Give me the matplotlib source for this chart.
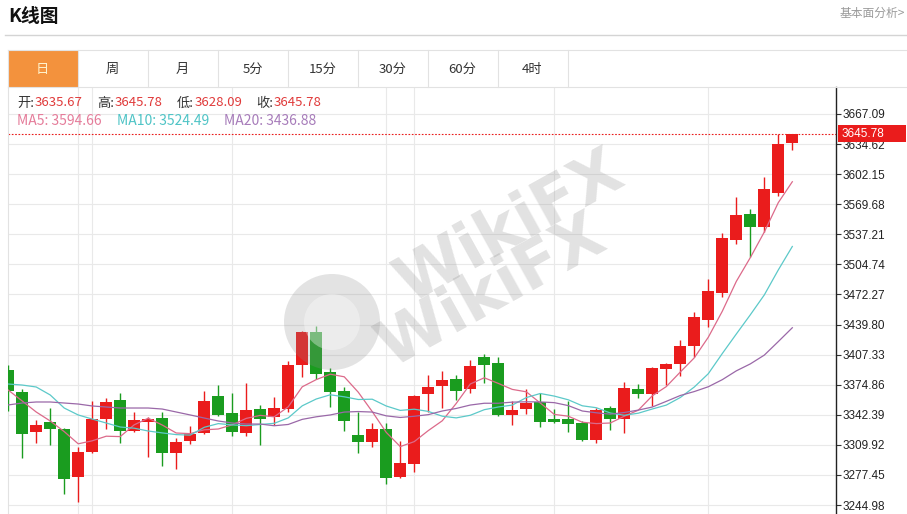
import matplotlib
matplotlib.use("Agg")
import matplotlib.pyplot as plt
import matplotlib.transforms as mtransforms
from matplotlib.lines import Line2D
from matplotlib.patches import Rectangle, Circle
import numpy as np
import pandas as pd

plt.rcParams["font.family"] = ["Noto Sans CJK SC", "DejaVu Sans"]

# daily candles, oldest first
opens = [3390.7, 3367.0, 3323.8, 3334.6, 3327.0, 3275.2, 3302.2, 3337.8, 3358.4, 3324.9,
         3334.6, 3338.9, 3301.1, 3314.1, 3322.7, 3362.7, 3344.3, 3322.7, 3348.6, 3340.0,
         3348.6, 3396.1, 3431.8, 3388.6, 3368.1, 3320.6, 3313.0, 3327.0, 3275.2, 3289.3,
         3364.8, 3373.5, 3381.1, 3370.2, 3404.8, 3398.3, 3342.2, 3348.6, 3356.2, 3337.8,
         3337.8, 3333.5, 3315.2, 3349.7, 3337.8, 3370.2, 3364.8, 3391.8, 3397.2, 3416.6,
         3444.7, 3473.9, 3531.1, 3559.1, 3545.1, 3581.8, 3635.67]
highs = [3396.1, 3370.2, 3336.8, 3349.7, 3328.1, 3307.6, 3357.3, 3360.5, 3365.9, 3345.4,
         3340.0, 3345.4, 3317.3, 3330.3, 3368.1, 3374.5, 3365.9, 3376.7, 3353.0, 3361.6,
         3400.5, 3432.8, 3438.2, 3392.9, 3372.4, 3345.4, 3333.5, 3333.5, 3314.1, 3363.8,
         3385.3, 3389.6, 3385.3, 3401.5, 3408.1, 3404.8, 3357.3, 3370.2, 3365.9, 3348.6,
         3357.3, 3335.7, 3349.7, 3351.9, 3377.8, 3375.6, 3394.0, 3398.3, 3423.1, 3453.3,
         3489.0, 3538.6, 3577.5, 3564.5, 3599.1, 3645.5, 3645.78]
lows = [3346.5, 3295.7, 3311.9, 3309.8, 3256.9, 3248.2, 3301.1, 3327.0, 3311.9, 3323.8,
        3296.8, 3287.1, 3283.9, 3310.9, 3321.6, 3341.1, 3319.5, 3319.5, 3309.8, 3331.4,
        3345.4, 3383.2, 3381.1, 3350.8, 3324.9, 3301.1, 3307.6, 3267.7, 3274.2, 3280.6,
        3345.4, 3349.7, 3358.4, 3365.9, 3376.7, 3341.0, 3331.4, 3343.2, 3329.2, 3333.5,
        3323.8, 3314.1, 3311.9, 3325.9, 3322.7, 3360.5, 3351.9, 3374.5, 3384.3, 3404.8,
        3437.2, 3469.6, 3526.8, 3512.7, 3539.7, 3578.6, 3628.09]
closes = [3368.1, 3321.6, 3331.4, 3327.0, 3273.1, 3302.2, 3337.8, 3356.2, 3324.9, 3336.8,
          3337.8, 3301.1, 3313.0, 3321.6, 3357.3, 3342.2, 3323.8, 3347.6, 3337.8, 3349.7,
          3396.1, 3431.8, 3386.4, 3367.0, 3335.7, 3313.0, 3327.0, 3274.2, 3290.3, 3362.7,
          3372.4, 3380.0, 3368.1, 3395.0, 3396.1, 3342.2, 3347.6, 3355.1, 3334.6, 3334.6,
          3332.4, 3315.2, 3347.6, 3337.8, 3371.3, 3364.8, 3392.9, 3397.2, 3416.6, 3447.9,
          3476.0, 3533.2, 3558.1, 3545.1, 3586.1, 3634.7, 3645.78]

ma5_head = [3369.1, 3357.3, 3345.4, 3335.7]
ma10_head = [3375.6, 3374.5, 3372.4, 3363.8, 3349.7, 3342.2, 3337.8, 3333.5, 3329.2]
ma20_head = [3353.0, 3355.1, 3356.2, 3356.2, 3355.1, 3354.0, 3351.9, 3350.8, 3349.7, 3349.7,
             3349.7, 3348.6, 3345.4, 3342.2, 3338.9, 3335.7, 3333.5, 3332.4, 3332.4]

ma_names = ["MA5", "MA10", "MA20"]
ma_legend_values = [3594.66, 3524.49, 3436.88]

y_ticks = [3244.98, 3277.45, 3309.92, 3342.39, 3374.86, 3407.33, 3439.80,
           3472.27, 3504.74, 3537.21, 3569.68, 3602.15, 3634.62, 3667.09]
vgrid_at = [5, 6, 16, 27, 29, 39, 50]

tabs = ["日", "周", "月", "5分", "15分", "30分", "60分", "4时"]
active_tab = 0

RED = "#ea1c1c"
GREEN = "#1a9c1f"
MA_COLORS = ["#dc6a8a", "#5cc9c9", "#9a68a8"]
MA_TEXT = ["#e57c9a", "#4fc4c6", "#a77cba"]
GRID = "#e9e9e9"

W, H = 907, 514


def fx(px):
    return px / W


def fy(py):
    return 1 - py / H


def moving_average(values, n, head):
    ma = pd.Series(values, dtype=float).rolling(n).mean()
    ma.iloc[: len(head)] = head
    return ma.to_numpy()


fig = plt.figure(figsize=(W / 100, H / 100), dpi=100)
fig.patch.set_facecolor("white")

# header
fig.text(fx(8), fy(16), "K线图", fontsize=13.5, fontweight="bold", color="#111111",
         ha="left", va="center")
fig.text(fx(905), fy(13), "基本面分析>", fontsize=8.5, color="#9a9a9a", ha="right", va="center")
fig.add_artist(Line2D([fx(5), 1], [fy(35), fy(35)], color="#d4d4d4", lw=1))

# period tabs
tab_w = 70
tab_x0 = 7.5
for i, name in enumerate(tabs):
    left = tab_x0 + i * tab_w
    if i == active_tab:
        fig.add_artist(Rectangle((fx(left), fy(87)), tab_w / W, 37 / H,
                                 fc="#f3923d", ec="none"))
    fig.add_artist(Line2D([fx(left + tab_w)] * 2, [fy(50), fy(87)], color="#e2e2e2", lw=0.8))
    fig.text(fx(left + tab_w / 2), fy(69), name, fontsize=9.5,
             color="#fff2cc" if i == active_tab else "#333333", ha="center", va="center")
fig.add_artist(Line2D([fx(tab_x0), 1], [fy(50), fy(50)], color="#e2e2e2", lw=0.8))
fig.add_artist(Line2D([fx(tab_x0), 1], [fy(87), fy(87)], color="#e2e2e2", lw=0.8))
fig.add_artist(Line2D([fx(tab_x0)] * 2, [fy(50), fy(87)], color="#e2e2e2", lw=0.8))

# price chart
ax = fig.add_axes([fx(7.5), 0, 828.5 / W, 427 / H])
x = np.arange(len(closes))
o = np.array(opens)
c = np.array(closes)
colors = [RED if cc >= oo else GREEN for oo, cc in zip(o, c)]

ax.vlines(x, lows, highs, colors=colors, lw=1.0, zorder=3)
ax.bar(x, np.maximum(np.abs(c - o), 0.9), 0.88, bottom=np.minimum(o, c),
       color=colors, linewidth=0, zorder=4)

heads = [ma5_head, ma10_head, ma20_head]
for n, head, col in zip([5, 10, 20], heads, MA_COLORS):
    ax.plot(x, moving_average(closes, n, head), color=col, lw=0.9, zorder=5)

ax.set_xlim(-0.05, 59.12)
ax.set_ylim(3235.29, 3696.23)
ax.set_xticks([])
ax.set_yticks(y_ticks)
ax.set_yticklabels([f"{v:.2f}" for v in y_ticks], fontfamily="Liberation Sans")
ax.yaxis.tick_right()
ax.tick_params(axis="y", length=3.5, width=0.8, color="#333333", pad=1.5,
               labelsize=8.5, labelcolor="#222222")
ax.grid(axis="y", color=GRID, lw=0.8)
ax.set_axisbelow(True)
for k in vgrid_at:
    ax.axvline(k, color=GRID, lw=0.8, zorder=0)
for side in ["top", "bottom"]:
    ax.spines[side].set_visible(False)
ax.spines["left"].set_color("#e2e2e2")
ax.spines["left"].set_linewidth(0.8)
ax.spines["right"].set_color("#222222")
ax.spines["right"].set_linewidth(1.0)

# last price marker
last = closes[-1]
ax.axhline(last, color=RED, lw=0.8, ls=(0, (1.5, 1.5)), zorder=2)
trans = mtransforms.blended_transform_factory(ax.transAxes, ax.transData)
ax.add_patch(Rectangle((1.0024, last - 9.2), 68 / 828.5, 18.35, transform=trans,
                       clip_on=False, fc=RED, ec="none", zorder=6))
ax.text(1.0072, last, f"{last:.2f}", transform=trans, color="white", fontsize=8.5,
        fontfamily="Liberation Sans", ha="left", va="center", zorder=7)

# info rows
ohlc = [("开:", opens[-1], 17, 35), ("高:", highs[-1], 97, 115),
        ("低:", lows[-1], 177, 195), ("收:", closes[-1], 256, 274)]
for label, val, lx, vx in ohlc:
    fig.text(fx(lx), fy(103), label, fontsize=9.5, color="#333333", ha="left", va="center")
    fig.text(fx(vx), fy(103), f"{val:.2f}", fontsize=9.5, color="#e03a3a", ha="left", va="center")
for name, val, col, lx in zip(ma_names, ma_legend_values, MA_TEXT, [17, 117, 224]):
    fig.text(fx(lx), fy(121), f"{name}: {val:.2f}", fontsize=10, color=col,
             ha="left", va="center")

# watermark
ident = mtransforms.IdentityTransform()
fig.add_artist(Circle((332, H - 322), 48, transform=ident, fc="#8c8c8c", ec="none",
                      alpha=0.24, zorder=10))
fig.add_artist(Circle((332, H - 322), 28, transform=ident, fc="white", ec="none",
                      alpha=0.35, zorder=11))
wm = dict(fontsize=46, fontweight="bold", color="#8c8c8c", alpha=0.25, rotation=29,
          ha="center", va="center", family="DejaVu Sans", zorder=10)
fig.text(fx(510), fy(228), "WikiFX", **wm)
fig.text(fx(492), fy(292), "WikiFX", **wm)

fig.savefig("out.png", dpi=100, facecolor="white")
